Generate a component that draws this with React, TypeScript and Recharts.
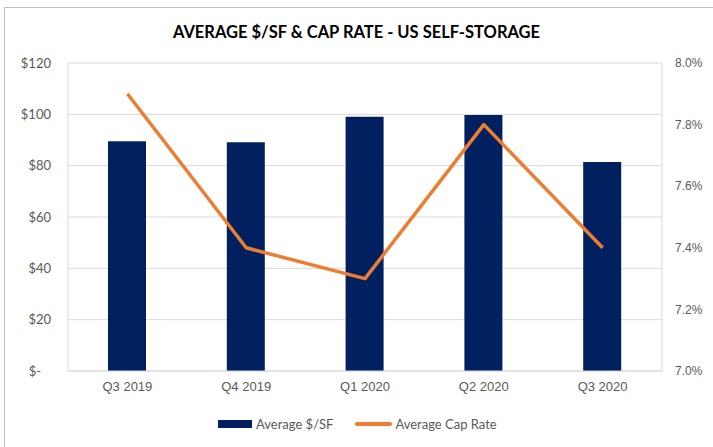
import React from "react";
import { ComposedChart, Bar, Line, XAxis, YAxis, CartesianGrid } from "recharts";

const categories = ["Q3 2019", "Q4 2019", "Q1 2020", "Q2 2020", "Q3 2020"];
const avgPricePerSf = [89.5, 89.1, 99.1, 99.7, 81.4];
const avgCapRate = [7.9, 7.4, 7.3, 7.8, 7.4];
const leftTicks = [0, 20, 40, 60, 80, 100, 120];
const rightTicks = [7.0, 7.2, 7.4, 7.6, 7.8, 8.0];
const seriesNames = ["Average $/SF", "Average Cap Rate"];

const data = categories.map((c, i) => ({
  name: c,
  price: avgPricePerSf[i],
  cap: avgCapRate[i],
}));

const NAVY = "#002060";
const ORANGE = "#ED7D31";
const TICK = "#595959";
const GRID = "#d9d9d9";

export default function App() {
  return (
    <div
      style={{
        position: "absolute",
        left: 0,
        top: 0,
        width: 713,
        height: 447,
        overflow: "hidden",
        background: "#fff",
      }}
    >
      <div
        style={{
          position: "absolute",
          left: 4,
          top: 7,
          width: 800,
          height: 500,
          borderLeft: "1px solid #bfbfbf",
          borderTop: "1px solid #bfbfbf",
        }}
      />
      <div
        style={{
          position: "absolute",
          left: 0,
          top: 22,
          width: 713,
          textAlign: "center",
          fontFamily: "Lato, sans-serif",
          fontWeight: 700,
          fontSize: 16.5,
          color: "#000",
        }}
      >
        AVERAGE $/SF &amp; CAP RATE - US SELF-STORAGE
      </div>
      <div style={{ position: "absolute", left: 0, top: 0 }}>
        <ComposedChart
          width={713}
          height={447}
          data={data}
          margin={{ top: 63, right: 0, bottom: 46, left: 0 }}
          barCategoryGap="34%"
        >
          <CartesianGrid yAxisId="left" vertical={false} stroke={GRID} />
          <XAxis
            dataKey="name"
            tickLine={false}
            axisLine={{ stroke: GRID }}
            tickSize={0}
            tickMargin={11}
            height={30}
            tick={{ fill: TICK, fontSize: 13, fontFamily: "Liberation Sans, Arial, sans-serif" }}
          />
          <YAxis
            yAxisId="left"
            orientation="left"
            width={68}
            domain={[0, 120]}
            ticks={leftTicks}
            tickLine={false}
            axisLine={{ stroke: GRID }}
            tickSize={0}
            tickMargin={17}
            tickFormatter={(v: number) => (v === 0 ? "$-\u00a0\u00a0\u00a0" : "$" + v)}
            tick={{ fill: TICK, fontSize: 13, fontFamily: "Lato, sans-serif" }}
          />
          <YAxis
            yAxisId="right"
            orientation="right"
            width={51}
            domain={[7.0, 8.0]}
            ticks={rightTicks}
            tickLine={false}
            axisLine={{ stroke: GRID }}
            tickSize={0}
            tickMargin={13}
            tickFormatter={(v: number) => v.toFixed(1) + "%"}
            tick={{ fill: TICK, fontSize: 12, fontFamily: "Liberation Sans, Arial, sans-serif" }}
          />
          <Bar
            yAxisId="left"
            dataKey="price"
            name={seriesNames[0]}
            fill={NAVY}
            barSize={38}
            isAnimationActive={false}
          />
          <Line
            yAxisId="right"
            dataKey="cap"
            name={seriesNames[1]}
            stroke={ORANGE}
            strokeWidth={3.5}
            dot={false}
            activeDot={false}
            strokeLinejoin="round"
            isAnimationActive={false}
          />
        </ComposedChart>
      </div>
      <div
        style={{
          position: "absolute",
          left: 218,
          top: 416,
          display: "flex",
          alignItems: "center",
          fontFamily: "Lato, sans-serif",
          fontSize: 13,
          color: TICK,
          whiteSpace: "nowrap",
        }}
      >
        <span style={{ display: "inline-block", width: 34, height: 8, background: NAVY, marginRight: 4 }} />
        <span style={{ marginRight: 22 }}>{seriesNames[0]}</span>
        <span style={{ display: "inline-block", width: 37, height: 4, borderRadius: 2, background: ORANGE, marginRight: 3 }} />
        <span>{seriesNames[1]}</span>
      </div>
    </div>
  );
}
